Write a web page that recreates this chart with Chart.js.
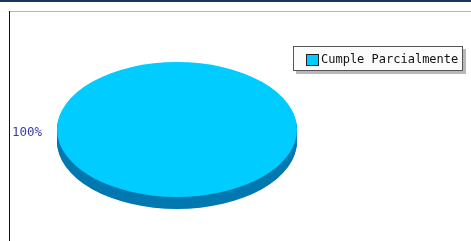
<!DOCTYPE html>
<html>
<head>
<meta charset="utf-8">
<script src="https://cdn.jsdelivr.net/npm/chart.js@4/dist/chart.umd.min.js"></script>
<style>
  html, body { margin: 0; padding: 0; width: 471px; height: 241px; overflow: hidden; background: #fff; }
  #topbar { position: absolute; left: 0; top: 0; width: 471px; height: 2px; background: #1b365d; }
  #frameTop { position: absolute; left: 10px; top: 11px; width: 461px; height: 1px; background: #b8b8b8; }
  #frameLeft { position: absolute; left: 9px; top: 11px; width: 1px; height: 230px; background: #111; }
  #wrap { position: absolute; left: 0; top: 0; width: 471px; height: 241px; }
  #legend { position: absolute; left: 293px; top: 46px; width: 168px; height: 23px; border: 1px solid #555;
    background: #fbfbfb; box-shadow: 3px 3px 0 #b8b8b8; font-family: "DejaVu Sans Mono", monospace; font-size: 12px;
    color: #111; box-sizing: content-box; }
  #legend .sw { position: absolute; left: 12px; top: 7px; width: 11px; height: 10px; border: 1px solid #222; }
  #legend .tx { position: absolute; left: 27px; top: 5px; line-height: 15px; white-space: nowrap; }
  #pct { position: absolute; left: 12px; top: 124px; font-family: "DejaVu Sans Mono", monospace; font-size: 12.5px; color: #3b3ba6; }
</style>
</head>
<body>
<div id="topbar"></div>
<div id="frameTop"></div>
<div id="frameLeft"></div>
<div id="wrap"><canvas id="c" width="471" height="241"></canvas></div>
<div id="legend"></div>
<div id="pct"></div>
<script>
const categories = ["Cumple Parcialmente"];
const values = [100];
const percentLabels = ["100%"];
const topColors = ["#00ccff"];
const sideColors = ["#0078b0"];

// HTML legend + label from data
const lg = document.getElementById('legend');
categories.forEach((c, i) => {
  const sw = document.createElement('div'); sw.className = 'sw'; sw.style.background = topColors[i];
  const tx = document.createElement('div'); tx.className = 'tx'; tx.textContent = c;
  lg.appendChild(sw); lg.appendChild(tx);
});
document.getElementById('pct').textContent = percentLabels[0];

const ELL = { cx: 177, cy: 129.5, rx: 120, ry: 67.5, depth: 12 };

const pie3d = {
  id: 'pie3d',
  beforeDatasetsDraw(chart) {
    const ctx = chart.ctx;
    const meta = chart.getDatasetMeta(0);
    if (!meta.data.length) return false;
    const a0 = meta.data[0];
    const R = a0.outerRadius, ox = a0.x, oy = a0.y;
    const apply = (dy) => {
      ctx.translate(ELL.cx, ELL.cy + dy);
      ctx.scale(ELL.rx / R, ELL.ry / R);
      ctx.translate(-ox, -oy);
    };
    // side (depth)
    for (let d = ELL.depth; d >= 1; d--) {
      ctx.save(); apply(d);
      meta.data.forEach((arc, i) => {
        const bg = arc.options.backgroundColor;
        arc.options.backgroundColor = sideColors[i];
        arc.draw(ctx);
        arc.options.backgroundColor = bg;
      });
      ctx.restore();
    }
    // top
    ctx.save(); apply(0);
    meta.data.forEach(arc => arc.draw(ctx));
    ctx.restore();
    return false;
  }
};

new Chart(document.getElementById('c'), {
  type: 'pie',
  data: {
    labels: categories,
    datasets: [{ data: values, backgroundColor: topColors, borderWidth: 0 }]
  },
  options: {
    responsive: false,
    animation: false,
    layout: { padding: { left: 60, right: 170, top: 60, bottom: 40 } },
    plugins: { legend: { display: false }, tooltip: { enabled: false } }
  },
  plugins: [pie3d]
});
</script>
</body>
</html>
